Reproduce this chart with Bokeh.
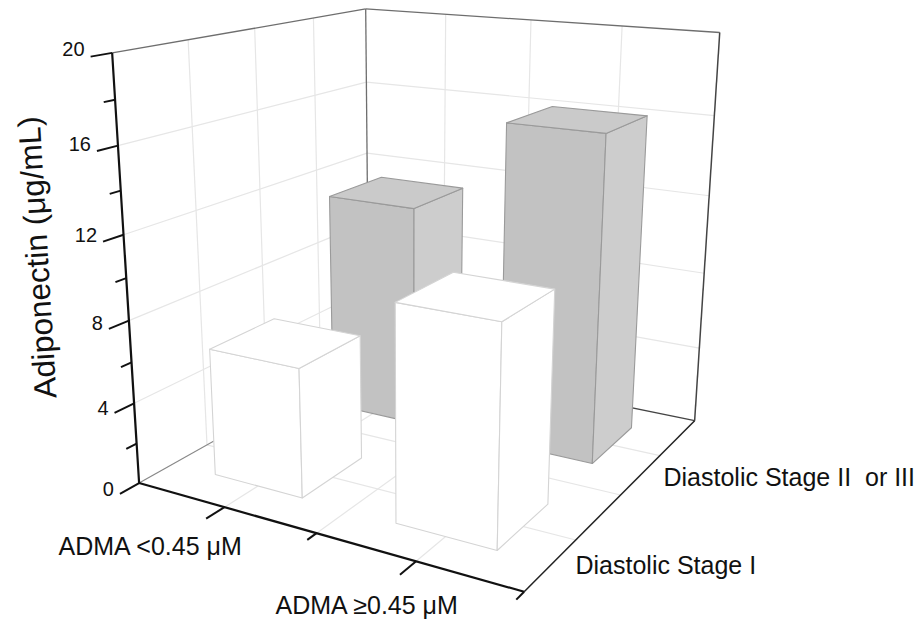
import numpy as np
from bokeh.plotting import figure
from bokeh.core.properties import value
from bokeh.embed import file_html
from bokeh.resources import INLINE

# ---- data ----
x_labels = ["ADMA <0.45 μM", "ADMA ≥0.45 μM"]
y_labels = ["Diastolic Stage I", "Diastolic Stage II\u00a0 or III"]
z_title = "Adiponectin (μg/mL)"
z_major = [0, 4, 8, 12, 16, 20]
z_minor = [2, 6, 10, 14, 18]
x_cats = [1, 2]
y_cats = [1, 2]
stage1_values = [6.3, 10.2]    # white bars (ADMA low, ADMA high)
stage23_values = [11.4, 16.15]  # grey bars

BAR = 0.25
LO, HI = 0.5, 2.5
ZMAX = 20

# ---- camera: fitted from the box corners and ticks seen in the picture ----
calib = [
    (0.5, 0.5, 0, 139, 482), (2.5, 0.5, 0, 523, 592), (2.5, 2.5, 0, 695, 420),
    (0.5, 2.5, 0, 366, 354), (0.5, 0.5, 20, 112, 52), (0.5, 2.5, 20, 366, 9),
    (2.5, 2.5, 20, 719, 32), (1, 0.5, 0, 223, 507), (1.5, 0.5, 0, 317, 533),
    (2, 0.5, 0, 415, 562), (2.5, 1, 0, 573, 539), (2.5, 1.5, 0, 618, 494),
    (2.5, 2, 0, 658, 453), (0.5, 0.5, 4, 134, 402), (0.5, 0.5, 16, 116, 145),
    (0.75, 0.75, 0, 216, 474), (1.25, 0.75, 0, 302, 497), (1.25, 1.25, 0, 362, 457),
    (1.75, 0.75, 0, 396, 523), (2.25, 0.75, 0, 497, 550), (2.25, 1.25, 0, 549, 505),
    (2.25, 1.75, 0, 593, 463), (2.25, 2.25, 0, 633, 428),
]


def fit_camera(pts):
    rows = []
    for X, Y, Z, u, v in pts:
        P = [X, Y, Z / 10, 1]
        u, v = u / 500, v / 500
        rows.append(P + [0, 0, 0, 0] + [-u * c for c in P])
        rows.append([0, 0, 0, 0] + P + [-v * c for c in P])
    return np.linalg.svd(np.array(rows))[2][-1].reshape(3, 4)


CAM = fit_camera(calib)


def proj(x, y, z):
    h = CAM @ np.array([x, y, z / 10, 1.0])
    return h[0] / h[2] * 500, h[1] / h[2] * 500


p = figure(width=920, height=620, x_range=(0, 920), y_range=(620, 0),
           output_backend="svg", toolbar_location=None, min_border=0,
           background_fill_color="white", border_fill_color="white")
p.axis.visible = False
p.grid.visible = False
p.outline_line_color = None


def seg(a, b, color, width):
    pa, pb = proj(*a), proj(*b)
    p.line([pa[0], pb[0]], [pa[1], pb[1]], line_color=color, line_width=width)


# ---- walls and floor ----
GRID = "#e6e6e6"
mids = [1, 1.5, 2]
for t in mids:
    seg((t, LO, 0), (t, HI, 0), GRID, 1.2)        # floor
    seg((LO, t, 0), (HI, t, 0), GRID, 1.2)
    seg((t, HI, 0), (t, HI, ZMAX), GRID, 1.2)     # back wall
    seg((LO, t, 0), (LO, t, ZMAX), GRID, 1.2)     # left wall
for z in z_major[1:-1]:
    seg((LO, LO, z), (LO, HI, z), GRID, 1.2)
    seg((LO, HI, z), (HI, HI, z), GRID, 1.2)

EDGE = "#6e6e6e"
seg((LO, LO, ZMAX), (LO, HI, ZMAX), EDGE, 1.3)
seg((LO, HI, ZMAX), (HI, HI, ZMAX), EDGE, 1.3)
seg((LO, HI, 0), (LO, HI, ZMAX), EDGE, 1.3)
seg((HI, HI, 0), (HI, HI, ZMAX), "#444444", 1.5)
seg((LO, LO, 0), (LO, HI, 0), "#888888", 1.2)
seg((LO, HI, 0), (HI, HI, 0), "#444444", 1.3)


# ---- bars ----
def bar(xc, yc, h, front, side, top, edge):
    x0, x1, y0, y1 = xc - BAR, xc + BAR, yc - BAR, yc + BAR
    faces = [
        ([(x0, y0, 0), (x1, y0, 0), (x1, y0, h), (x0, y0, h)], front),
        ([(x1, y0, 0), (x1, y1, 0), (x1, y1, h), (x1, y0, h)], side),
        ([(x0, y0, h), (x1, y0, h), (x1, y1, h), (x0, y1, h)], top),
    ]
    for corners, col in faces:
        xy = [proj(*c) for c in corners]
        p.patch([q[0] for q in xy], [q[1] for q in xy], fill_color=col,
                line_color=edge, line_width=1.1, line_join="round")


for xc, h in zip(x_cats, stage23_values):
    bar(xc, y_cats[1], h, "#c2c2c2", "#cdcdcd", "#cacaca", "#9a9a9a")
for xc, h in zip(x_cats, stage1_values):
    bar(xc, y_cats[0], h, "#ffffff", "#ffffff", "#ffffff", "#d4d4d4")

# ---- axes ----
seg((LO, LO, 0), (LO, LO, ZMAX), "#111111", 2.2)
seg((LO, LO, 0), (HI, LO, 0), "#111111", 2.2)
seg((HI, LO, 0), (HI, HI, 0), "#222222", 1.5)

MAJ, MIN = 0.13, 0.07
for z in z_major:
    seg((LO, LO, z), (LO, LO - MAJ, z), "#111111", 2)
for z in z_minor:
    seg((LO, LO, z), (LO, LO - MIN, z), "#111111", 2)
for t in x_cats:
    seg((t, LO, 0), (t, LO - MAJ, 0), "#111111", 2)
for t in [1.5, HI]:
    seg((t, LO, 0), (t, LO - MIN, 0), "#111111", 2)

FONT = value("Liberation Sans")
for z in z_major:
    ex, ey = proj(LO, LO - MAJ, z)
    p.text([ex - 6], [ey - 4.5 - 3 * z / ZMAX], text=[str(z)], text_font=FONT,
           text_font_size="20px", text_color="#111111", text_align="right",
           text_baseline="middle")

p.text([36.5], [257], text=[z_title], text_font=FONT, text_font_size="31.5px",
       text_color="#111111", text_align="center", text_baseline="middle",
       angle=[np.pi / 2 + 0.06])

p.text([58, 275], [545, 604], text=x_labels, text_font=FONT, text_font_size="25px",
       text_color="#111111", text_align="left", text_baseline="middle")
p.text([575, 663], [564, 476], text=y_labels, text_font=FONT, text_font_size="25px",
       text_color="#111111", text_align="left", text_baseline="middle")

open("out.html", "w").write(file_html(p, INLINE))
